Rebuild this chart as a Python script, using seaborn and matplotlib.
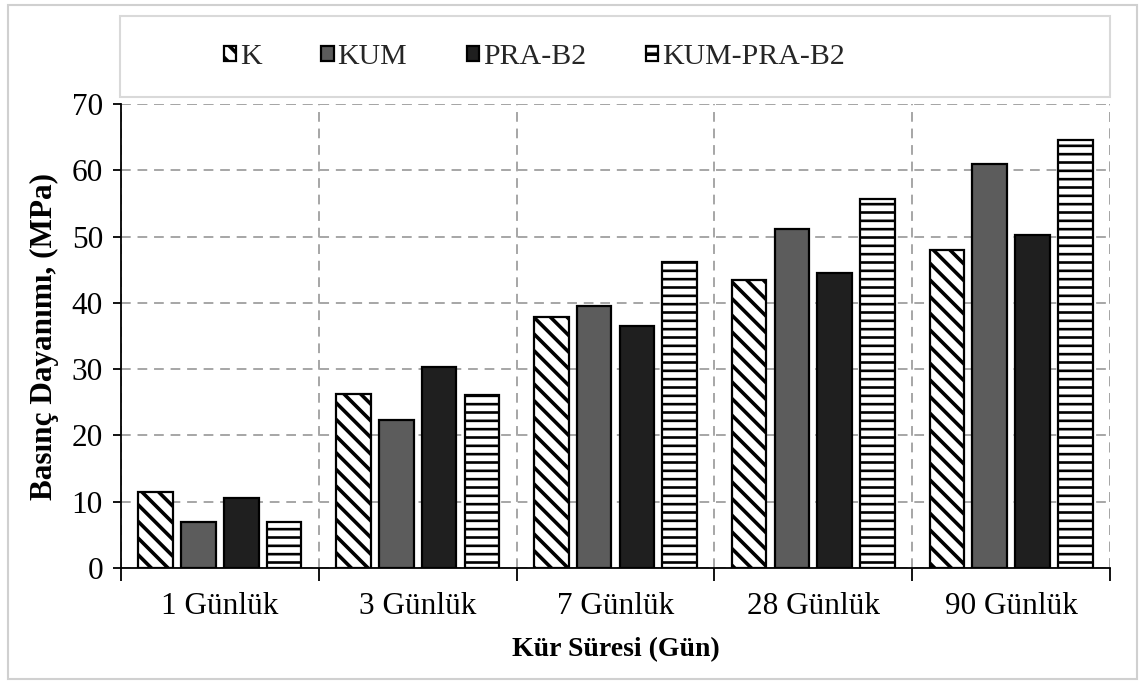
import matplotlib
matplotlib.use("Agg")
import matplotlib.pyplot as plt
from matplotlib.patches import Rectangle
import seaborn as sns
import pandas as pd
import numpy as np

# Compressive strength by curing period
periods = ["1 Günlük", "3 Günlük", "7 Günlük", "28 Günlük", "90 Günlük"]
series = ["K", "KUM", "PRA-B2", "KUM-PRA-B2"]
k_vals = [11.5, 26.2, 37.8, 43.5, 48.0]
kum_vals = [7.0, 22.4, 39.5, 51.2, 60.9]
pra_vals = [10.5, 30.3, 36.5, 44.5, 50.3]
kum_pra_vals = [6.9, 26.1, 46.1, 55.7, 64.6]
y_ticks = [0, 10, 20, 30, 40, 50, 60, 70]

df = pd.DataFrame({
    "period": periods * 4,
    "mix": [s for s in series for _ in periods],
    "strength": k_vals + kum_vals + pra_vals + kum_pra_vals,
})

fills = {"K": "white", "KUM": "#5c5c5c", "PRA-B2": "#1f1f1f", "KUM-PRA-B2": "white"}
hatches = {"K": "\\\\", "KUM": "", "PRA-B2": "", "KUM-PRA-B2": "--"}

sns.set_theme(style="white")
plt.rcParams["font.family"] = ["Liberation Serif", "DejaVu Serif"]
plt.rcParams["hatch.linewidth"] = 2.6
plt.rcParams["hatch.color"] = "black"

fig = plt.figure(figsize=(11.4, 6.82), dpi=100)
ax = fig.add_axes([121 / 1140, 1 - 568 / 682, (1110 - 121) / 1140, (568 - 104) / 682])

sns.barplot(data=df, x="period", y="strength", hue="mix", order=periods,
            hue_order=series, palette=fills, width=0.866, gap=0.19,
            edgecolor="black", linewidth=1.6, saturation=1, ax=ax, legend=False)

for name, cont in zip(series, ax.containers):
    for bar in cont.patches:
        bar.set_hatch(hatches[name])
        bar.set_facecolor(fills[name])
        bar.set_edgecolor("black")
        if name == "KUM-PRA-B2" and hasattr(bar, "set_hatch_linewidth"):
            bar.set_hatch_linewidth(1.9)
        bar.set_zorder(3)

ax.set_ylim(0, 70)
ax.set_xlim(-0.5, 4.5)
ax.set_yticks(y_ticks)
ax.set_xticks(range(len(periods)))
ax.set_xticklabels(periods)
ax.set_xticks(np.arange(-0.5, 5.0, 1.0), minor=True)

grid_kw = dict(color="#a6a6a6", linestyle=(0, (5, 3.5)), linewidth=1.4)
ax.grid(axis="y", which="major", **grid_kw)
ax.grid(axis="x", which="minor", **grid_kw)
ax.grid(axis="x", which="major", visible=False)
ax.set_axisbelow(True)

for side in ["top", "right"]:
    ax.spines[side].set_visible(False)
for side in ["left", "bottom"]:
    ax.spines[side].set_color("black")
    ax.spines[side].set_linewidth(1.3)
ax.axhline(70, **grid_kw, zorder=1)
ax.axvline(4.5, **grid_kw, zorder=1)

ax.tick_params(axis="y", which="major", direction="out", length=6, width=1.3,
               color="black", labelsize=22.5, pad=7, left=True)
ax.tick_params(axis="x", which="major", length=0, labelsize=22.5, pad=17)
ax.tick_params(axis="x", which="minor", direction="out", length=9, width=1.3,
               color="black", bottom=True)
for lbl in ax.get_xticklabels() + ax.get_yticklabels():
    lbl.set_color("black")

ax.set_xlabel("Kür Süresi (Gün)", fontsize=20, fontweight="bold", color="black", labelpad=12)
ax.set_ylabel("Basınç Dayanımı, (MPa)", fontsize=22.5, fontweight="bold", color="black", labelpad=9)

# Legend inside its own framed box above the plot
fig.patches.append(Rectangle((120 / 1140, 1 - 97 / 682), 990 / 1140, 81 / 682,
                             transform=fig.transFigure, facecolor="white",
                             edgecolor="#d9d9d9", linewidth=1.5, zorder=0))
fig.legend(handles=list(ax.containers), labels=series, loc="center",
           bbox_to_anchor=(534 / 1140, 1 - 57 / 682), ncol=4, frameon=False,
           fontsize=21.5, handlelength=0.42, handleheight=0.42, handletextpad=0.12,
           columnspacing=2.0, borderpad=0)

# Outer frame
fig.patches.append(Rectangle((8 / 1140, 1 - 679 / 682), 1129 / 1140, 674 / 682,
                             transform=fig.transFigure, facecolor="none",
                             edgecolor="#d0d0d0", linewidth=1.5, zorder=0))

fig.savefig("out.png", dpi=100, facecolor="white")
